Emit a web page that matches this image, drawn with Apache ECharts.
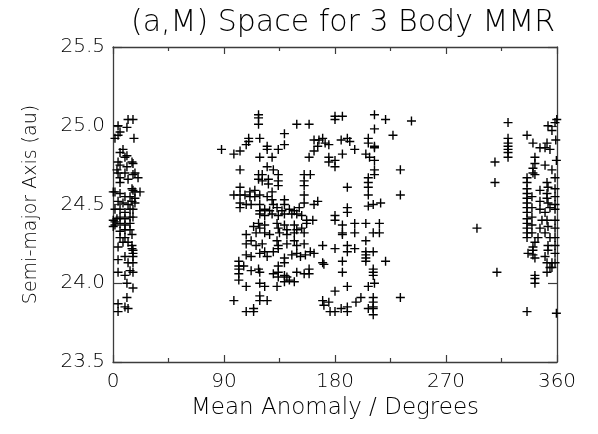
<!DOCTYPE html>
<html>
<head>
<meta charset="utf-8">
<script src="https://cdn.jsdelivr.net/npm/echarts@6/dist/echarts.min.js"></script>
<style>
  html, body { margin: 0; padding: 0; background: #fff; }
  #chart { width: 598px; height: 434px; }
</style>
</head>
<body>
<div id="chart"></div>
<script>
// [mean anomaly (deg), semi-major axis (au)]
const leftCluster = [
  [12.2,25.04],[16.2,25.04],[4.1,25.00],[11.3,24.99],[5.7,24.96],[4.1,24.94],[1.6,24.92],[17.0,24.92],
  [8.1,24.85],[5.7,24.83],[11.3,24.81],[9.7,24.80],[4.1,24.77],[5.7,24.75],[15.4,24.77],[16.2,24.76],
  [11.3,24.74],[3.2,24.72],[4.1,24.70],[5.7,24.67],[9.7,24.70],[16.2,24.69],[17.8,24.70],[20.3,24.67],
  [5.7,24.64],[12.2,24.66],[15.4,24.60],[16.2,24.59],[17.8,24.58],[21.9,24.58],[1.6,24.58],[5.7,24.57],
  [9.7,24.55],[13.8,24.55],[17.8,24.54],[4.1,24.52],[8.1,24.51],[12.2,24.50],[15.4,24.52],[17.8,24.51],
  [1.6,24.47],[5.7,24.47],[9.7,24.45],[13.8,24.47],[16.2,24.47],[3.2,24.41],[5.7,24.42],[9.7,24.41],
  [13.8,24.42],[16.2,24.42],[1.6,24.39],[1.6,24.37],[5.7,24.38],[9.7,24.37],[13.8,24.38],[5.7,24.33],
  [9.7,24.34],[13.8,24.34],[15.4,24.31],[5.7,24.29],[9.7,24.29],[12.2,24.26],[15.4,24.24],[4.1,24.23],
  [8.1,24.26],[15.4,24.22],[16.2,24.21],[16.2,24.19],[4.1,24.15],[9.7,24.17],[12.2,24.13],[16.2,24.17],
  [16.2,24.13],[4.1,24.07],[9.7,24.05],[13.8,24.08],[16.2,24.07],[11.3,24.00],[16.2,23.97],[11.3,23.91],
  [4.1,23.87],[9.7,23.85],[12.2,23.84],[4.1,23.82],[0.2,24.58],[0.2,24.40],[0.2,24.36]
];

const middleCluster = [
  [118,25.07],[118,25.05],[118,25.01],[149,25.01],[159,25.01],[139,24.95],[110,24.92],[110,24.90],
  [108,24.88],[119,24.92],[125,24.87],[125,24.85],[134,24.85],[139,24.88],[88,24.85],[98,24.82],
  [103,24.84],[119,24.80],[129,24.80],[159,24.80],[163,24.84],[163,24.91],[103,24.72],[125,24.74],
  [130,24.72],[118,24.69],[118,24.66],[121,24.69],[121,24.65],[126,24.66],[126,24.63],[134,24.69],
  [134,24.65],[134,24.62],[155,24.69],[155,24.65],[155,24.62],[160,24.69],[103,24.61],[98,24.56],
  [103,24.56],[107,24.56],[111,24.58],[111,24.55],[115,24.59],[115,24.55],[119,24.56],[103,24.51],
  [103,24.48],[108,24.50],[112,24.50],[119,24.50],[125,24.55],[129,24.58],[129,24.53],[130,24.50],
  [139,24.53],[139,24.50],[155,24.56],[155,24.51],[163,24.50],[119,24.46],[123,24.47],[127,24.46],
  [133,24.48],[137,24.46],[143,24.47],[147,24.46],[151,24.48],
  [119,24.44],[123,24.43],[129,24.44],[134,24.43],[139,24.44],[145,24.44],[149,24.44],[153,24.43],
  [157,24.40],[162,24.40],[114,24.36],[118,24.38],[119,24.35],[123,24.37],[133,24.38],[134,24.35],
  [139,24.37],[141,24.34],[147,24.37],[149,24.34],[153,24.35],[157,24.38],[108,24.31],[116,24.32],
  [123,24.32],[127,24.31],[135,24.32],[141,24.31],[147,24.32],[155,24.32],[108,24.25],[112,24.27],
  [116,24.24],[121,24.25],[133,24.27],[134,24.24],[141,24.25],[147,24.27],[149,24.24],[155,24.25],
  [108,24.18],[112,24.17],[119,24.19],[123,24.20],[125,24.17],[130,24.20],[134,24.22],[139,24.16],
  [145,24.18],[149,24.19],[152,24.17],[156,24.18],[160,24.20],[163,24.19],[102,24.14],[102,24.11],
  [102,24.09],[106,24.11],[102,24.06],[112,24.08],[118,24.09],[119,24.07],[130,24.06],[134,24.11],
  [134,24.07],[134,24.04],[139,24.05],[141,24.04],[139,24.13],[147,24.01],[149,24.07],[155,24.06],
  [159,24.09],[159,24.06],[102,24.02],[108,23.98],[119,24.00],[123,23.98],[133,23.98],[139,24.01],
  [143,24.02],[98,23.89],[119,23.92],[119,23.89],[125,23.89],[108,23.82],[114,23.82],[114,23.84],
  [180,25.06],[186,25.06],[180,25.04],[212,25.07],[221,25.04],[242,25.03],[212,24.98],[227,24.94],
  [170,24.92],[172,24.89],[175,24.88],[185,24.91],[190,24.92],[192,24.90],[207,24.92],[207,24.89],
  [212,24.87],[212,24.86],[175,24.80],[175,24.77],[180,24.78],[180,24.74],[186,24.82],[196,24.85],
  [205,24.82],[208,24.80],[212,24.78],[233,24.72],[212,24.72],[212,24.69],[207,24.67],[207,24.64],
  [207,24.61],[190,24.61],[207,24.56],[207,24.49],[211,24.50],[217,24.51],[233,24.56],[190,24.48],
  [190,24.45],[180,24.43],[180,24.40],[186,24.37],[186,24.32],[186,24.31],[196,24.38],[196,24.32],
  [205,24.38],[216,24.38],[211,24.32],[216,24.32],[170,24.24],[180,24.22],[190,24.24],[190,24.20],
  [196,24.22],[205,24.27],[205,24.20],[205,24.18],[205,24.16],[205,24.14],[211,24.20],[211,24.09],
  [211,24.07],[211,24.05],[221,24.14],[170,24.13],[186,24.14],[186,24.07],[180,23.95],[190,23.98],
  [207,23.98],[212,24.00],[233,23.91],[170,23.89],[175,23.88],[176,23.82],[180,23.82],[185,23.84],
  [190,23.85],[190,23.82],[197,23.88],[201,23.91],[207,23.84],[211,23.91],[211,23.88],[211,23.85],
  [211,23.84],[211,23.80],[167,24.91],[166,24.87],[166,24.52],[171,24.12],[171,23.86]
];

const rightCluster = [
  [309.7,24.77],[309.7,24.64],[295.1,24.35],[311.3,24.07],[320.3,25.02],[320.3,24.92],[320.3,24.89],
  [320.3,24.87],[320.3,24.85],[320.3,24.83],[320.3,24.80],[335.7,24.94],[335.7,23.82],[359.5,23.81],
  [340.5,24.89],[346.2,24.86],[351.9,24.89],[350.3,24.86],[342.1,24.80],[342.1,24.76],[340.5,24.73],
  [340.5,24.70],[342.1,24.69],[335.7,24.67],[335.7,24.64],[335.7,24.60],[335.7,24.57],[335.7,24.54],
  [335.7,24.51],[335.7,24.48],[335.7,24.45],[335.7,24.41],[335.7,24.38],[335.7,24.35],[335.7,24.32],
  [335.7,24.29],[339.7,24.55],[339.7,24.48],[339.7,24.42],[339.7,24.37],[339.7,24.32],[346.2,24.59],
  [346.2,24.52],[346.2,24.47],[347.8,24.40],[346.2,24.35],[344.6,24.29],[342.1,24.26],[340.5,24.23],
  [336.5,24.19],[340.5,24.21],[340.5,24.18],[342.1,24.16],[342.1,24.05],[342.1,24.03],[342.1,24.00],
  [351.9,24.64],[352.7,24.61],[351.9,24.57],[351.9,24.54],[352.7,24.51],[354.3,24.48],[350.3,24.45],
  [351.9,24.40],[352.7,24.36],[350.3,24.32],[354.3,24.29],[352.7,24.24],[352.7,24.21],[350.3,24.17],
  [351.9,24.13],[355.9,24.13],[355.9,24.10],[351.9,24.07],[354.3,24.10],[358.4,24.67],[358.4,24.60],
  [358.4,24.55],[358.4,24.50],[358.4,24.47],[358.4,24.40],[358.4,24.35],[358.4,24.29],[358.4,24.24],
  [358.4,24.19],[358.4,24.13],[352.7,25.00],[358.4,25.02],[359.8,25.04],[355.9,24.97],[359.0,24.91],
  [354.3,24.85],[359.5,24.78],[350.3,24.75],[355.9,24.72]
];

const xTicks = [0, 90, 180, 270, 360];
const yTicks = [23.5, 24.0, 24.5, 25.0, 25.5];

const chart = echarts.init(document.getElementById('chart'));
const font = 'DejaVu Sans';
const frame = '#3c3c3c';

function xAx(pos, show) {
  return {
    type: 'value', position: pos,
    min: xTicks[0], max: xTicks[xTicks.length - 1], interval: 90,
    axisLine: { show: true, onZero: false, lineStyle: { color: frame, width: 1.3 } },
    axisTick: { show: true, inside: true, length: 7, lineStyle: { color: frame, width: 1.2 } },
    minorTick: { show: true, splitNumber: 2, length: 4, lineStyle: { color: frame, width: 1.2 } },
    splitLine: { show: false },
    axisLabel: { show: show, margin: 10, color: '#000', fontFamily: font, fontWeight: 200, fontSize: 20 },
    name: show ? 'Mean Anomaly / Degrees' : '',
    nameLocation: 'middle', nameGap: 34,
    nameTextStyle: { color: '#000', fontFamily: font, fontWeight: 200, fontSize: 23 }
  };
}

function yAx(pos, show) {
  return {
    type: 'value', position: pos,
    min: yTicks[0], max: yTicks[yTicks.length - 1], interval: 0.5,
    axisLine: { show: true, onZero: false, lineStyle: { color: frame, width: 1.3 } },
    axisTick: { show: true, inside: true, length: 9, lineStyle: { color: frame, width: 1.2 } },
    splitLine: { show: false },
    axisLabel: { show: show, margin: 8, color: '#000', fontFamily: font, fontWeight: 200, fontSize: 20,
      formatter: v => v.toFixed(1) },
    name: show ? 'Semi-major Axis (au)' : '',
    nameLocation: 'middle', nameGap: 72,
    nameTextStyle: { color: '#000', fontFamily: font, fontWeight: 200, fontSize: 19 }
  };
}

chart.setOption({
  animation: false,
  backgroundColor: '#fff',
  title: {
    text: '(a,M) Space for 3 Body MMR',
    left: 126, top: 3,
    textStyle: { color: '#000', fontFamily: font, fontWeight: 200, fontSize: 30 }
  },
  grid: { left: 113, right: 41, top: 47, bottom: 72 },
  xAxis: [xAx('bottom', true), xAx('top', false)],
  yAxis: [yAx('left', true), yAx('right', false)],
  series: [{
    type: 'scatter',
    xAxisIndex: 0, yAxisIndex: 0,
    symbol: 'path://M0,5L10,5M5,0L5,10',
    symbolSize: 9,
    itemStyle: { color: 'rgba(0,0,0,0)', borderColor: '#000', borderWidth: 1.4, opacity: 1 },
    data: leftCluster.concat(middleCluster, rightCluster)
  }]
});
</script>
</body>
</html>
